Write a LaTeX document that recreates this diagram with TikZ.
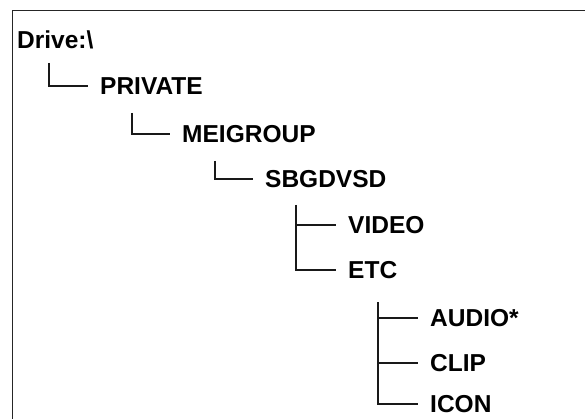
\documentclass[tikz,border=0pt]{standalone}
\usepackage{fontspec}
\setmainfont{Liberation Sans}
\begin{document}
\begin{tikzpicture}[x=1pt,y=-1pt,
  every node/.style={font=\fontsize{24.5}{27}\selectfont\bfseries, inner ysep=0pt, inner xsep=12pt, anchor=west},
  tree/.style={line width=1.2pt, black!90},
  frame/.style={line width=1.6pt, black!85}]
\useasboundingbox (0,0) rectangle (585,419);
\draw[frame] (12.5,419) -- (12.5,10.5) -- (585,10.5);
% nodes
\node[inner xsep=0pt] (drive) at (17,40) {Drive:\textbackslash};
\node (private) at (88,86) {PRIVATE};
\node (meigroup) at (170,134) {MEIGROUP};
\node (sbgdvsd) at (253,179) {SBGDVSD};
\node (video) at (336,225) {VIDEO};
\node (etc) at (336,270) {ETC};
\node (audio) at (418,318) {AUDIO*};
\node (clip) at (418,363) {CLIP};
\node (icon) at (418,404) {ICON};
% branch points
\coordinate (b1) at (49,63);
\coordinate (b2) at (132,113);
\coordinate (b3) at (215,161);
\coordinate (b4) at (296,205);
\coordinate (b5) at (378,302);
% connectors
\draw[tree] (b1) |- (private);
\draw[tree] (b2) |- (meigroup);
\draw[tree] (b3) |- (sbgdvsd);
\draw[tree] (b4) |- (etc);
\draw[tree] (b4 |- video) -- (video);
\draw[tree] (b5) |- (icon);
\draw[tree] (b5 |- audio) -- (audio);
\draw[tree] (b5 |- clip) -- (clip);
\end{tikzpicture}
\end{document}
